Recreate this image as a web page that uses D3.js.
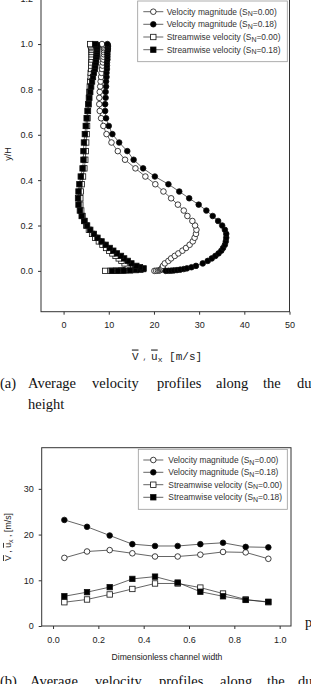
<!DOCTYPE html>
<html>
<head>
<meta charset="utf-8">
<script src="https://cdn.jsdelivr.net/npm/d3@7"></script>
<style>
body { margin:0; background:#fff; }
svg { display:block; }
</style>
</head>
<body>
<svg width="311" height="684"></svg>
<script>
// ---- (a) profiles along duct height: y/H grid (shared mesh) and velocities [m/s]
const yGrid = [0, 0.0005, 0.001, 0.002, 0.0035, 0.0055, 0.008, 0.011,
  0.016, 0.022, 0.033, 0.044, 0.055, 0.066, 0.077, 0.089, 0.101, 0.115,
  0.130, 0.146, 0.163, 0.181, 0.200, 0.220, 0.242, 0.266, 0.292, 0.320,
  0.350, 0.382, 0.416, 0.452, 0.490, 0.528, 0.566, 0.603, 0.639, 0.673,
  0.705, 0.735, 0.763, 0.789, 0.813, 0.835, 0.855, 0.873, 0.890, 0.905,
  0.919, 0.932, 0.944, 0.955, 0.965, 0.974, 0.982, 0.989, 0.995, 1.0]
const heightMagN0 = [20.1, 20.5, 20.9, 21.2, 21.4, 21.6, 21.7, 21.8,
  21.9, 22.0, 22.4, 23.2, 23.8, 24.6, 25.4, 26.3, 27.1, 27.9,
  28.6, 29.0, 29.3, 29.4, 29.1, 28.5, 27.4, 26.6, 25.3, 23.8,
  22.1, 20.3, 18.1, 15.9, 13.6, 12.0, 10.6, 9.5, 8.8, 8.3,
  8.0, 7.9, 7.9, 8.0, 8.1, 8.2, 8.3, 8.4, 8.5, 8.6,
  8.7, 8.8, 8.8, 8.9, 8.9, 8.9, 8.9, 8.8, 8.7, 8.5]
const heightMagN18 = [22.6, 23.2, 23.8, 24.4, 25.1, 25.8, 26.6, 27.3,
  28.3, 29.3, 30.8, 31.9, 32.8, 33.6, 34.3, 34.9, 35.3, 35.7,
  35.9, 36.0, 36.0, 35.7, 35.1, 34.2, 33.0, 31.6, 29.9, 27.8,
  25.6, 23.2, 20.2, 17.6, 15.5, 14.1, 12.3, 10.8, 10.0, 9.4,
  9.2, 9.2, 9.3, 9.3, 9.4, 9.4, 9.5, 9.5, 9.6, 9.6,
  9.6, 9.7, 9.7, 9.7, 9.7, 9.8, 9.8, 9.8, 9.8, 9.7]
const heightStreamN0 = [9.2, 10.4, 11.6, 12.8, 13.8, 14.6, 15.0, 15.0,
  14.7, 14.2, 13.5, 12.8, 12.2, 11.5, 10.8, 10.1, 9.4, 8.6,
  7.8, 7.0, 6.3, 5.6, 5.0, 4.6, 4.2, 3.9, 3.7, 3.7,
  3.8, 4.0, 4.3, 4.6, 4.8, 4.9, 5.0, 5.1, 5.2, 5.3,
  5.4, 5.5, 5.6, 5.7, 5.8, 5.9, 6.0, 6.0, 6.1, 6.1,
  6.1, 6.2, 6.2, 6.2, 6.2, 6.2, 6.2, 6.1, 6.0, 5.9]
const heightStreamN18 = [10.7, 12.0, 13.3, 14.7, 16.0, 17.0, 17.6, 17.7,
  16.9, 16.1, 15.0, 14.2, 13.4, 12.7, 11.8, 11.0, 10.2, 9.3,
  8.4, 7.5, 6.7, 5.9, 5.2, 4.6, 4.0, 3.6, 3.3, 3.2,
  3.3, 3.5, 3.8, 4.2, 4.4, 4.4, 4.5, 4.7, 4.9, 5.1,
  5.3, 5.5, 5.7, 5.9, 6.1, 6.3, 6.5, 6.7, 6.9, 7.0,
  7.1, 7.2, 7.3, 7.3, 7.4, 7.4, 7.4, 7.4, 7.3, 7.0]

// ---- (b) profiles along duct width
const widthPos = [0.05, 0.15, 0.25, 0.35, 0.45, 0.55, 0.65, 0.75, 0.85, 0.95]
const widthMagN0 = [14.9, 16.3, 16.6, 15.9, 15.2, 15.2, 15.6, 16.2, 16.1, 14.7]
const widthMagN18 = [23.2, 21.7, 19.8, 17.9, 17.5, 17.5, 17.9, 18.2, 17.3, 17.2]
const widthStreamN0 = [5.2, 5.8, 6.9, 8.1, 9.3, 9.3, 8.4, 7.1, 5.8, 5.2]
const widthStreamN18 = [6.5, 7.4, 8.5, 10.3, 10.8, 9.5, 7.5, 6.5, 5.7, 5.3]

// legend / ticks
const seriesNames = ["Velocity magnitude", "Velocity magnitude", "Streamwise velocity", "Streamwise velocity"]
const swirlNumbers = ["0.00", "0.18", "0.00", "0.18"]
const ticksA_x = [0, 10, 20, 30, 40, 50]
const ticksA_y = [0.0, 0.2, 0.4, 0.6, 0.8, 1.0, 1.2]
const ticksB_x = [0.0, 0.2, 0.4, 0.6, 0.8, 1.0]
const ticksB_y = [0, 10, 20, 30]

const svg = d3.select("svg")
const SANS = '"Liberation Sans", Arial, sans-serif'
const SERIF = '"Liberation Serif", "Times New Roman", serif'
const MONO = '"Liberation Mono", "Courier New", monospace'
const styles = [
  {shape:"circle", fill:"#fff"},
  {shape:"circle", fill:"#000"},
  {shape:"square", fill:"#fff"},
  {shape:"square", fill:"#000"}
]

function marker(sel, st) {
  if (st.shape === "circle") {
    sel.append("circle").attr("r", 2.8)
      .attr("fill", st.fill).attr("stroke", "#111").attr("stroke-width", 0.8)
  } else {
    sel.append("rect").attr("x", -2.7).attr("y", -2.7).attr("width", 5.4).attr("height", 5.4)
      .attr("fill", st.fill).attr("stroke", "#111").attr("stroke-width", 0.8)
  }
}

function drawPanel(p) {
  const x = d3.scaleLinear().domain(p.xDomain).range([p.left, p.right])
  const y = d3.scaleLinear().domain(p.yDomain).range([p.bottom, p.top])
  const g = svg.append("g")

  const xAxisG = g.append("g").attr("transform", `translate(0,${p.bottom})`)
    .call(d3.axisBottom(x).tickValues(p.xTicks).tickFormat(p.xFmt).tickSize(3).tickSizeOuter(0).tickPadding(7.3))
  const yAxisG = g.append("g").attr("transform", `translate(${p.left},0)`)
    .call(d3.axisLeft(y).tickValues(p.yTicks).tickFormat(p.yFmt).tickSize(3).tickSizeOuter(0).tickPadding(5))
  ;[xAxisG, yAxisG].forEach(a => {
    a.select(".domain").remove()
    a.selectAll(".tick line").attr("stroke", "#333")
    a.selectAll(".tick text").attr("fill", "#222").style("font-family", SANS).style("font-size", "9px")
  })

  // frame
  g.append("rect").attr("x", p.left).attr("y", y(p.yDomain[1]))
    .attr("width", p.right - p.left).attr("height", p.bottom - y(p.yDomain[1]))
    .attr("fill", "none").attr("stroke", "#333").attr("stroke-width", 1)

  // series
  p.series.forEach((pts, i) => {
    g.append("path").datum(pts)
      .attr("d", d3.line().x(d => x(d[0])).y(d => y(d[1])))
      .attr("fill", "none").attr("stroke", "#222").attr("stroke-width", 0.7)
    g.selectAll(null).data(pts).enter().append("g")
      .attr("transform", d => `translate(${x(d[0])},${y(d[1])})`)
      .each(function() { marker(d3.select(this), styles[i]) })
  })

  // legend
  const lg = g.append("g")
  lg.append("rect").attr("x", p.legend.x0).attr("y", p.legend.y0)
    .attr("width", p.legend.x1 - p.legend.x0).attr("height", p.legend.y1 - p.legend.y0)
    .attr("fill", "#fff").attr("stroke", "#999").attr("stroke-width", 0.8)
  seriesNames.forEach((name, i) => {
    const cy = p.legend.rows[i]
    const row = lg.append("g").attr("transform", `translate(${p.legend.mx},${cy})`)
    row.append("line").attr("x1", -10).attr("x2", 10).attr("stroke", "#222").attr("stroke-width", 0.7)
    marker(row, styles[i])
    const t = lg.append("text").attr("x", p.legend.tx).attr("y", cy).attr("dy", "0.35em")
      .attr("fill", "#333").style("font-family", SANS).style("font-size", "8.4px")
    t.append("tspan").text(`${name} (S`)
    t.append("tspan").text("N").attr("dy", 1.6).style("font-size", "7px")
    t.append("tspan").text(`=${swirlNumbers[i]})`).attr("dy", -1.6)
  })
  return g
}

// (a)
drawPanel({
  xDomain: [-5, 50], yDomain: [-0.18, 1.2],
  left: 41, right: 289.5, top: -1.3, bottom: 311.7,
  xTicks: ticksA_x, yTicks: ticksA_y, xFmt: d3.format("d"), yFmt: d3.format(".1f"),
  series: [heightMagN0, heightMagN18, heightStreamN0, heightStreamN18]
    .map(vals => vals.map((v, i) => [v, yGrid[i]])),
  legend: {x0: 137.7, x1: 287.3, y0: 1, y1: 61.7, mx: 153.3, tx: 166.7, rows: [11.7, 24.3, 37, 49.7]}
})

// (b)
drawPanel({
  xDomain: [-0.05, 1.05], yDomain: [0, 39],
  left: 41.7, right: 291, top: 447.7, bottom: 626,
  xTicks: ticksB_x, yTicks: ticksB_y, xFmt: d3.format(".1f"), yFmt: d3.format("d"),
  series: [widthMagN0, widthMagN18, widthStreamN0, widthStreamN18]
    .map(vals => vals.map((v, i) => [widthPos[i], v])),
  legend: {x0: 138.3, x1: 287.3, y0: 449.3, y1: 509.3, mx: 153.3, tx: 168.3, rows: [460, 472.3, 484.7, 497.3]}
})

// axis titles
svg.append("text").attr("transform", "translate(11,154) rotate(-90)").attr("text-anchor", "middle")
  .attr("fill", "#222").style("font-family", SANS).style("font-size", "9px").text("y/H")

const xt = svg.append("text").attr("x", 167).attr("y", 359.5).attr("text-anchor", "middle")
  .attr("fill", "#222").style("font-family", MONO).style("font-size", "11px")
xt.append("tspan").text("V").style("text-decoration", "overline")
xt.append("tspan").text(" , ").style("font-size", "7px")
xt.append("tspan").text("u").style("text-decoration", "overline")
xt.append("tspan").text("x").attr("dy", 2).style("font-size", "8px")
xt.append("tspan").text(" [m/s]").attr("dy", -2)

svg.append("text").attr("x", 167).attr("y", 660).attr("text-anchor", "middle")
  .attr("fill", "#222").style("font-family", SANS).style("font-size", "8.6px").text("Dimensionless channel width")

const yt = svg.append("text").attr("transform", "translate(11,537) rotate(-90)").attr("text-anchor", "middle")
  .attr("fill", "#222").style("font-family", SANS).style("font-size", "8.8px")
yt.append("tspan").text("V").style("text-decoration", "overline")
yt.append("tspan").text(" , ")
yt.append("tspan").text("u").style("text-decoration", "overline")
yt.append("tspan").text("x").attr("dy", 2).style("font-size", "7px")
yt.append("tspan").text(" , [m/s]").attr("dy", -2)

// captions
const capA = [["(a)", 0], ["Average", 28], ["velocity", 92], ["profiles", 157], ["along", 216], ["the", 263], ["du", 297]]
const capB = [["(b)", 0], ["Average", 30], ["velocity", 95], ["profiles", 159], ["along", 220], ["the", 267], ["du", 298]]
const caption = (words, yy) => words.forEach(([w, xx]) => {
  svg.append("text").attr("x", xx).attr("y", yy).attr("fill", "#111")
    .style("font-family", SERIF).style("font-size", "14.5px").text(w)
})
caption(capA, 387.5)
caption([["height", 28]], 409)
caption(capB, 686)
caption([["p", 305]], 627)
</script>
</body>
</html>
